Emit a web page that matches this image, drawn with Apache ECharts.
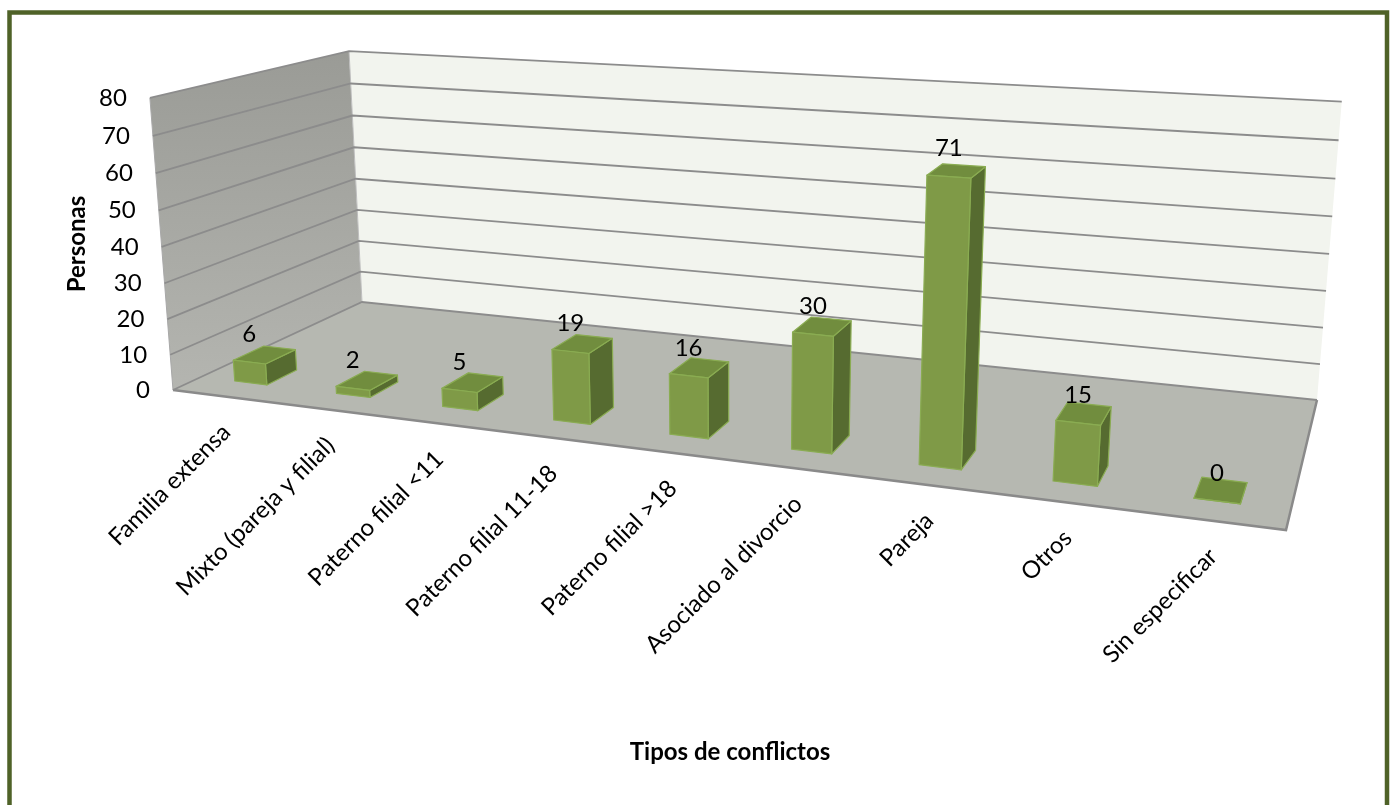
<!DOCTYPE html>
<html>
<head>
<meta charset="utf-8">
<title>Tipos de conflictos</title>
<script src="https://cdn.jsdelivr.net/npm/echarts@6/dist/echarts.min.js"></script>
<style>
  html, body { margin: 0; padding: 0; background: #fff; }
  #chart { width: 1393px; height: 805px; }
</style>
</head>
<body>
<div id="chart"></div>
<script>
var categories = ['Familia extensa', 'Mixto (pareja y filial)', 'Paterno filial <11', 'Paterno filial 11-18',
  'Paterno filial >18', 'Asociado al divorcio', 'Pareja', 'Otros', 'Sin especificar']
var personas = [6, 2, 5, 19, 16, 30, 71, 15, 0]
var yTicks = [0, 10, 20, 30, 40, 50, 60, 70, 80]

var FONT = 'Lato, "Open Sans", sans-serif'
// corners of the 3d box in the picture: floor (front-left, front-right, back-right, back-left) and wall tops
var FLOOR = [[173, 390], [1286, 530], [1317, 400], [362, 302]]
var WALL_TOP = [[0, 0, 150, 97.7], [0, 1, 349, 50], [1, 1, 1341.7, 103.3]]
var D0 = 0.13, D1 = 0.28 // depth of the bars on the floor
var BAR_RATIO = 0.32

// homography unit square -> floor quad
function squareToQuad(q) {
  var x0 = q[0][0], y0 = q[0][1], x1 = q[1][0], y1 = q[1][1]
  var x2 = q[2][0], y2 = q[2][1], x3 = q[3][0], y3 = q[3][1]
  var sx = x0 - x1 + x2 - x3, sy = y0 - y1 + y2 - y3
  var dx1 = x1 - x2, dx2 = x3 - x2, dy1 = y1 - y2, dy2 = y3 - y2
  var den = dx1 * dy2 - dx2 * dy1
  var g = (sx * dy2 - dx2 * sy) / den
  var h = (dx1 * sy - sx * dy1) / den
  return {
    a: x1 - x0 + g * x1, b: x3 - x0 + h * x3, c: x0,
    d: y1 - y0 + g * y1, e: y3 - y0 + h * y3, f: y0,
    g: g, h: h
  }
}

function solve3(A, B) {
  function det(m) {
    return m[0][0] * (m[1][1] * m[2][2] - m[1][2] * m[2][1]) -
      m[0][1] * (m[1][0] * m[2][2] - m[1][2] * m[2][0]) +
      m[0][2] * (m[1][0] * m[2][1] - m[1][1] * m[2][0])
  }
  var D = det(A)
  return [0, 1, 2].map(function (k) {
    var m = A.map(function (row, i) {
      return row.map(function (v, j) { return j === k ? B[i] : v })
    })
    return det(m) / D
  })
}

// height column of the projection, least squares on the wall top corners
function fitHeight(H, pts) {
  var A = [[0, 0, 0], [0, 0, 0], [0, 0, 0]], B = [0, 0, 0]
  pts.forEach(function (p) {
    var u = p[0], v = p[1], X = p[2], Y = p[3]
    var W = H.g * u + H.h * v + 1
    var rows = [
      [[1, 0, -X], X * W - (H.a * u + H.b * v + H.c)],
      [[0, 1, -Y], Y * W - (H.d * u + H.e * v + H.f)]
    ]
    rows.forEach(function (r) {
      for (var i = 0; i < 3; i++) {
        B[i] += r[0][i] * r[1]
        for (var j = 0; j < 3; j++) A[i][j] += r[0][i] * r[0][j]
      }
    })
  })
  return solve3(A, B)
}

var H = squareToQuad(FLOOR)
var K = fitHeight(H, WALL_TOP)

function project(u, d, t) {
  var w = H.g * u + H.h * d + 1 + K[2] * t
  return [(H.a * u + H.b * d + H.c + K[0] * t) / w, (H.d * u + H.e * d + H.f + K[1] * t) / w]
}

function poly(points, style) {
  return { type: 'polygon', shape: { points: points }, style: style }
}

function text(str, pos, style, rotation) {
  return {
    type: 'text', x: pos[0], y: pos[1], rotation: rotation || 0,
    style: Object.assign({ text: str, x: 0, y: 0, fill: '#000', font: '24px ' + FONT }, style)
  }
}

function renderFrame(params, api) {
  var cs = params.coordSys
  var y0 = api.coord([0, 0])[1]
  var children = []
  children.push(poly([project(0, 0, 0), project(0, 1, 0), project(0, 1, 1), project(0, 0, 1)], {
    fill: new echarts.graphic.LinearGradient(0, 0, 0, 1, [
      { offset: 0, color: '#9a9b96' }, { offset: 1, color: '#b4b5b0' }
    ])
  }))
  children.push(poly([project(0, 1, 0), project(1, 1, 0), project(1, 1, 1), project(0, 1, 1)], { fill: '#f2f4ee' }))
  children.push(poly([project(0, 0, 0), project(1, 0, 0), project(1, 1, 0), project(0, 1, 0)], { fill: '#b6b8b1' }))
  children.push({
    type: 'polyline',
    shape: { points: [project(0, 0, 0), project(1, 0, 0), project(1, 1, 0)] },
    style: { stroke: '#8a8a8a', lineWidth: 2.5, fill: null }
  })
  children.push({
    type: 'polyline',
    shape: { points: [project(0, 0, 0), project(0, 0, 1)] },
    style: { stroke: '#a8a8a8', lineWidth: 1, fill: null }
  })
  children.push({
    type: 'polyline',
    shape: { points: [project(0, 1, 0), project(0, 1, 1)] },
    style: { stroke: '#bdbdbd', lineWidth: 1, fill: null }
  })
  yTicks.forEach(function (v) {
    var t = (y0 - api.coord([0, v])[1]) / cs.height
    children.push({
      type: 'polyline',
      shape: { points: [project(0, 0, t), project(0, 1, t), project(1, 1, t)] },
      style: { stroke: '#8c8c8c', lineWidth: 1.8, fill: null }
    })
    var p = project(0, 0, t)
    children.push(text(String(v), [p[0] - 23, p[1]], { align: 'right', verticalAlign: 'middle' }))
  })
  return { type: 'group', children: children }
}

function renderBar(params, api) {
  var cs = params.coordSys
  var i = api.value(0)
  var base = api.coord([i, 0])
  var top = api.coord([i, api.value(1)])
  var band = api.size([1, 0])[0]
  var uc = (base[0] - cs.x) / cs.width
  var hw = band * BAR_RATIO / 2 / cs.width
  var t = (base[1] - top[1]) / cs.height
  var u0 = uc - hw, u1 = uc + hw
  var edge = { stroke: '#8aac52', lineWidth: 1.2, lineJoin: 'round' }
  var side = poly([project(u1, D0, 0), project(u1, D1, 0), project(u1, D1, t), project(u1, D0, t)],
    Object.assign({ fill: '#566b30' }, edge))
  var roof = poly([project(u0, D0, t), project(u1, D0, t), project(u1, D1, t), project(u0, D1, t)],
    Object.assign({ fill: '#718d3e' }, edge))
  var front = poly([project(u0, D0, 0), project(u1, D0, 0), project(u1, D0, t), project(u0, D0, t)],
    Object.assign({ fill: '#7f9a47' }, edge))
  var lp = project(uc, D0, t)
  var cp = project(uc, 0, 0)
  return {
    type: 'group',
    children: [
      side, roof, front,
      text(String(api.value(1)), [lp[0], lp[1] - 28], { align: 'center', verticalAlign: 'middle' }),
      text(categories[i], [cp[0] + 3, cp[1] + 32], { align: 'right', verticalAlign: 'middle' }, Math.PI / 4)
    ]
  }
}

var chart = echarts.init(document.getElementById('chart'))
chart.setOption({
  backgroundColor: '#fff',
  animation: false,
  grid: { left: 173, right: 107, top: 97, bottom: 413 },
  xAxis: { type: 'category', data: categories, show: false },
  yAxis: { type: 'value', min: 0, max: 80, interval: 10, show: false },
  graphic: [
    {
      type: 'rect', shape: { x: 9.5, y: 12.5, width: 1377.5, height: 810 },
      style: { fill: null, stroke: '#4f6228', lineWidth: 4.5 }
    },
    {
      type: 'text', x: 77, y: 244, rotation: Math.PI / 2,
      style: { text: 'Personas', font: 'bold 24px ' + FONT, fill: '#000', align: 'center', verticalAlign: 'middle' }
    },
    {
      type: 'text', x: 730, y: 752,
      style: { text: 'Tipos de conflictos', font: 'bold 24px ' + FONT, fill: '#000', align: 'center', verticalAlign: 'middle' }
    }
  ],
  series: [
    {
      type: 'custom',
      z: 1,
      renderItem: renderFrame,
      data: [[0, 0]]
    },
    {
      type: 'custom',
      name: 'Personas',
      z: 2,
      renderItem: renderBar,
      encode: { x: 0, y: 1 },
      data: personas.map(function (v, i) { return [i, v] })
    }
  ]
})
</script>
</body>
</html>
